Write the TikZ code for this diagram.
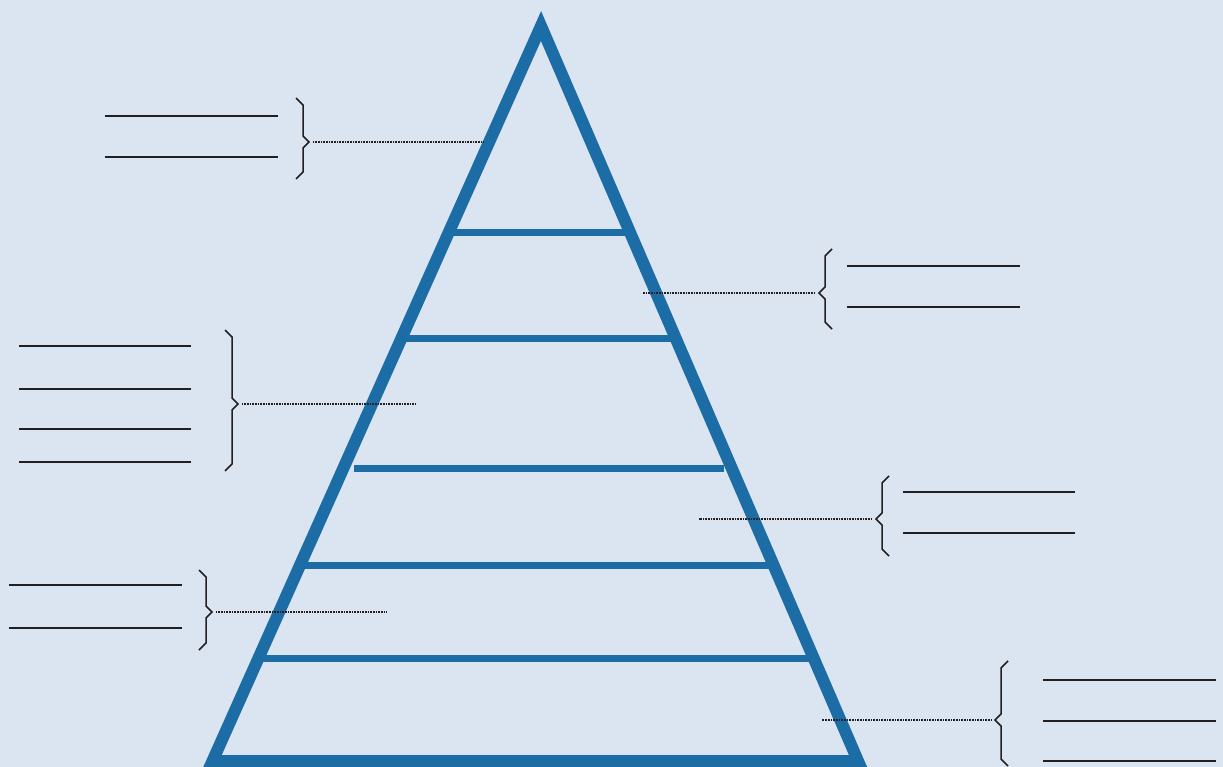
\documentclass[tikz,border=0pt]{standalone}
\usepackage{xcolor}
\usepackage{tikz}
\usetikzlibrary{calc}

\definecolor{bgblue}{RGB}{219,229,241}
\definecolor{tierblue}{RGB}{28,108,166}
\definecolor{inkgray}{RGB}{35,31,32}

\begin{document}
\begin{tikzpicture}[
            x=1pt, y=-1pt,
            pyramid/.style={draw=tierblue, line width=12pt, line join=miter},
            tier/.style={draw=tierblue, line width=7pt},
            leader/.style={draw=inkgray, line width=1.1pt, dash pattern=on 1pt off 0.6pt},
            blank/.style={draw=inkgray, line width=1.5pt},
            pics/brace/.style 2 args={code={
                \draw[inkgray, line width=1.5pt, line join=miter]
                    (-13,-#1) -- (-6,-#1+7) -- (-6,-6) -- (0,0) -- (-6,6) -- (-6,#2-7) -- (-13,#2);}}
        ]
            \useasboundingbox (0,0) rectangle (1223,767);
            \fill[bgblue] (0,0) rectangle (1223,767);
            \clip (0,0) rectangle (1223,767);

            % pyramid
            \coordinate (apex)  at (541,26);
            \coordinate (baseL) at (212.5,761);
            \coordinate (baseR) at (858,761);

            \foreach \y in {233,339,566,658}
                \draw[tier] ($(apex)!{(\y-26)/735}!(baseL)$) -- ($(apex)!{(\y-26)/735}!(baseR)$);
            \draw[tier, shorten <=11pt, shorten >=8pt] ($(apex)!{443/735}!(baseL)$) -- ($(apex)!{443/735}!(baseR)$);
            \draw[pyramid] (apex) -- (baseR) -- (baseL) -- cycle;

            % braces with leaders
            \coordinate (b1) at (309,142); \coordinate (t1) at (484,142);
            \coordinate (b2) at (819,293); \coordinate (t2) at (643,293);
            \coordinate (b3) at (238,404); \coordinate (t3) at (415,404);
            \coordinate (b4) at (212,612); \coordinate (t4) at (387,612);
            \coordinate (b5) at (876,519); \coordinate (t5) at (699,519);
            \coordinate (b6) at (995,720); \coordinate (t6) at (822,720);

            \pic at (b1) {brace={44}{37}};
            \pic[xscale=-1] at (b2) {brace={44}{36}};
            \pic at (b3) {brace={74}{67}};
            \pic at (b4) {brace={42}{38}};
            \pic[xscale=-1] at (b5) {brace={43}{37}};
            \pic[xscale=-1] at (b6) {brace={59}{46}};

            \draw[leader] ([xshift=4pt]b1) -- (t1);
            \draw[leader] ([xshift=-4pt]b2) -- (t2);
            \draw[leader] ([xshift=4pt]b3) -- (t3);
            \draw[leader] ([xshift=4pt]b4) -- (t4);
            \draw[leader] ([xshift=-4pt]b5) -- (t5);
            \draw[leader] ([xshift=-3pt]b6) -- (t6);

            % blank lines
            \foreach \y in {116,157} \draw[blank] (105,\y) -- ++(173,0);
            \foreach \y in {266,307} \draw[blank] (847,\y) -- ++(173,0);
            \foreach \y in {346,389,429,462} \draw[blank] (19,\y) -- ++(172,0);
            \foreach \y in {585,628} \draw[blank] (9,\y) -- ++(173,0);
            \foreach \y in {492,533} \draw[blank] (903,\y) -- ++(172,0);
            \foreach \y in {680,721,761} \draw[blank] (1043,\y) -- ++(173,0);
        \end{tikzpicture}
\end{document}
